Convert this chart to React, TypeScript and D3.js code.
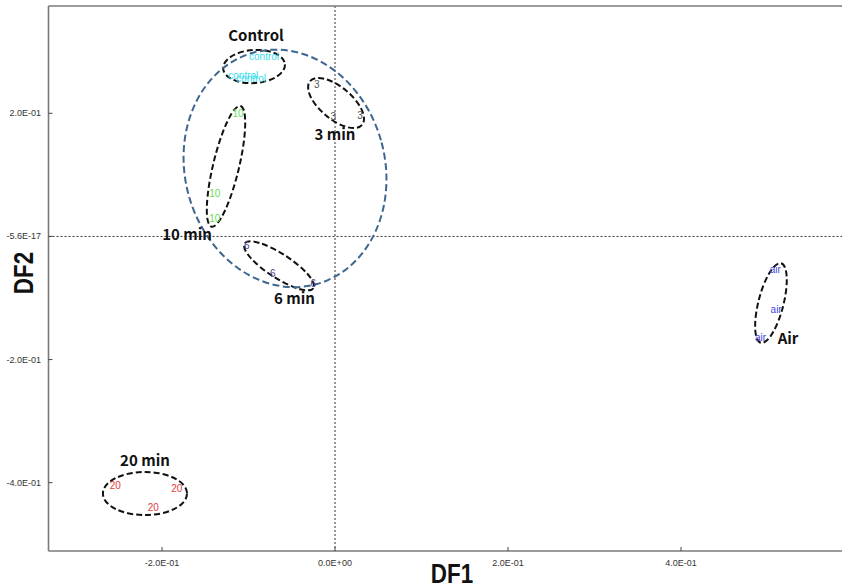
import React from "react";
import * as d3 from "d3";

// ---- data (discriminant function scores) ----
const groups = ["control", "3", "10", "6", "air", "20"];
const pointGroup = [
  "control", "control", "control",
  "3", "3", "3",
  "10", "10", "10",
  "6", "6", "6",
  "air", "air", "air",
  "20", "20", "20",
];
const df1Values = [
  -0.082, -0.106, -0.097,
  -0.021, -0.002, 0.029,
  -0.112, -0.139, -0.139,
  -0.102, -0.072, -0.025,
  0.509, 0.510, 0.492,
  -0.254, -0.183, -0.210,
];
const df2Values = [
  0.292, 0.262, 0.257,
  0.246, 0.194, 0.197,
  0.199, 0.070, 0.029,
  -0.015, -0.061, -0.077,
  -0.053, -0.118, -0.164,
  -0.404, -0.409, -0.441,
];
const groupColors = ["#36dcee", "#555555", "#66dd55", "#4b3d86", "#4646e0", "#e63a3a"];

const xTicks = [-0.2, 0, 0.2, 0.4];
const xTickLabels = ["-2.0E-01", "0.0E+00", "2.0E-01", "4.0E-01"];
const yTicks = [0.2, 0, -0.2, -0.4];
const yTickLabels = ["2.0E-01", "-5.6E-17", "-2.0E-01", "-4.0E-01"];

// group annotation labels (data coords)
const annoText = ["Control", "3 min", "10 min", "6 min", "Air", "20 min"];
const annoX = [-0.0913, 0.0, -0.171, -0.0468, 0.5237, -0.2197];
const annoY = [0.318, 0.156, -0.0054, -0.110, -0.175, -0.3727];

// grouping ellipses (center in data coords, semi-axes in DF1 units, rotation deg)
const ellCx = [-0.0936, 0.0012, -0.126, -0.0647, 0.504, -0.2197, -0.0578];
const ellCy = [0.276, 0.2167, 0.1138, -0.0478, -0.1082, -0.4176, 0.1105];
const ellRx = [0.0358, 0.0393, 0.0717, 0.0474, 0.0474, 0.0486, 0.1156];
const ellRy = [0.0191, 0.0185, 0.015, 0.0139, 0.0145, 0.0249, 0.1387];
const ellAngle = [-4, 40, -76.5, 33, -75.7, 0, -15];
const ellBig = [false, false, false, false, false, false, true];

export default function App() {
  const W = 842;
  const H = 585;
  const left = 48.5;
  const top = 6;
  const bottom = 551;
  const right = W;

  const x = d3.scaleLinear().domain([-0.2, 0.4]).range([162, 681]);
  const y = d3.scaleLinear().domain([0.2, -0.4]).range([113.3, 482.7]);
  const kx = (x(1) as number) - (x(0) as number);

  const axisColor = "#7a7a7a";
  const tickFont = "Liberation Sans, Arial, sans-serif";

  return (
    <svg
      width={W}
      height={H}
      style={{ position: "absolute", left: 0, top: 0, background: "#fff" }}
    >
      <rect x={0} y={0} width={W} height={H} fill="#fff" />
      {/* reference dotted lines */}
      <line x1={x(0)} x2={x(0)} y1={top} y2={bottom} stroke="#333" strokeWidth={1} strokeDasharray="2,2" />
      <line x1={left} x2={right} y1={y(0)} y2={y(0)} stroke="#333" strokeWidth={1} strokeDasharray="2,2" />

      {/* frame */}
      <line x1={left} x2={right} y1={top} y2={top} stroke={axisColor} strokeWidth={1.6} />
      <line x1={left} x2={left} y1={top} y2={bottom} stroke={axisColor} strokeWidth={1.6} />
      <line x1={left} x2={right} y1={bottom} y2={bottom} stroke={axisColor} strokeWidth={1.6} />

      {/* x ticks */}
      {xTicks.map((t, i) => (
        <g key={"xt" + i}>
          <line x1={x(t)} x2={x(t)} y1={bottom} y2={bottom - 4} stroke="#444" strokeWidth={1} />
          <text x={x(t)} y={566} fontSize={9} fontFamily={tickFont} fill="#333" textAnchor="middle">
            {xTickLabels[i]}
          </text>
        </g>
      ))}
      {/* y ticks */}
      {yTicks.map((t, i) => (
        <g key={"yt" + i}>
          <line x1={left} x2={left + 4} y1={y(t)} y2={y(t)} stroke="#444" strokeWidth={1} />
          <text x={41} y={(y(t) as number) + 3} fontSize={9} fontFamily={tickFont} fill="#333" textAnchor="end">
            {yTickLabels[i]}
          </text>
        </g>
      ))}

      {/* axis titles */}
      <text
        transform={`translate(452,583) scale(0.8,1)`}
        fontSize={28}
        fontWeight="bold"
        fontFamily="Liberation Sans, Arial, sans-serif"
        textAnchor="middle"
        fill="#111"
      >
        DF1
      </text>
      <text
        transform={`translate(33,273) rotate(-90) scale(0.8,1)`}
        fontSize={28}
        fontWeight="bold"
        fontFamily="Liberation Sans, Arial, sans-serif"
        textAnchor="middle"
        fill="#111"
      >
        DF2
      </text>

      {/* ellipses */}
      {ellCx.map((cx, i) => (
        <ellipse
          key={"el" + i}
          cx={0}
          cy={0}
          rx={ellRx[i] * kx}
          ry={ellRy[i] * kx}
          transform={`translate(${x(cx)},${y(ellCy[i])}) rotate(${ellAngle[i]})`}
          fill="none"
          stroke={ellBig[i] ? "#3f6690" : "#111"}
          strokeWidth={2}
          strokeDasharray={ellBig[i] ? "7,3.5" : "6,3"}
        />
      ))}

      {/* point labels */}
      {df1Values.map((v, i) => {
        const gi = groups.indexOf(pointGroup[i]);
        return (
          <text
            key={"p" + i}
            x={x(v)}
            y={y(df2Values[i])}
            fontSize={10}
            fontFamily="Liberation Sans, Arial, sans-serif"
            fill={groupColors[gi]}
            textAnchor="middle"
            dominantBaseline="central"
          >
            {pointGroup[i]}
          </text>
        );
      })}

      {/* group annotations */}
      {annoText.map((t, i) => (
        <text
          key={"a" + i}
          x={x(annoX[i])}
          y={y(annoY[i])}
          fontSize={15}
          fontWeight="bold"
          fontFamily="'Noto Sans CJK KR', 'Noto Sans', sans-serif"
          textAnchor="middle"
          fill="#111"
        >
          {t}
        </text>
      ))}
    </svg>
  );
}
